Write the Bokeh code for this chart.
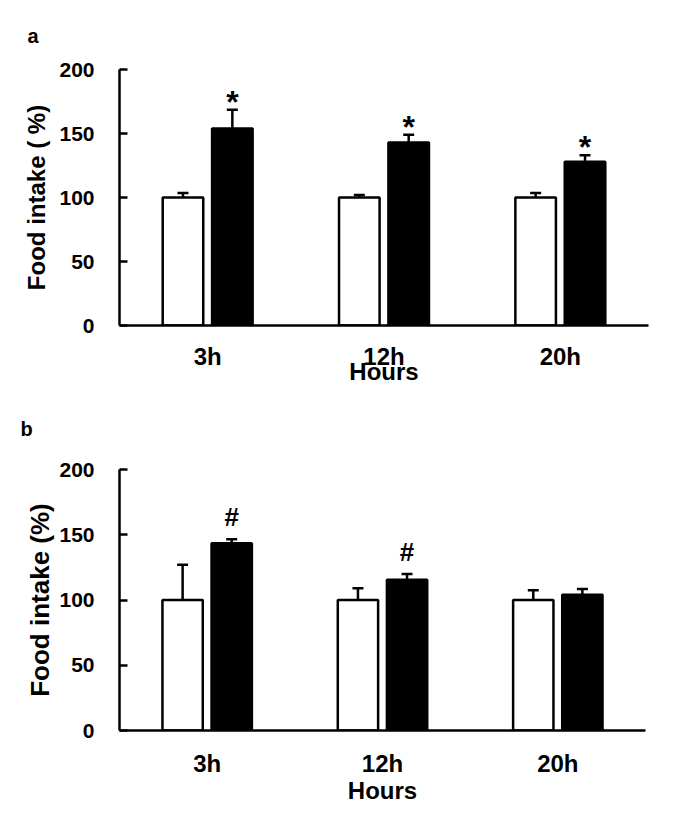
from bokeh.plotting import figure
from bokeh.models import FactorRange, Range1d, ColumnDataSource, FixedTicker
from bokeh.transform import dodge
from bokeh.layouts import column
from bokeh.embed import file_html
from bokeh.resources import INLINE
from bokeh.core.properties import value

# ---- data ----
hours = ["3h", "12h", "20h"]

a_ctrl = [100, 100, 100]
a_ctrl_err = [3.5, 2, 3.5]
a_trt = [154, 143, 128]
a_trt_err = [14.5, 6, 5]
a_marks = ["*", "*", "*"]

b_ctrl = [100, 100, 100]
b_ctrl_err = [27, 9, 7.5]
b_trt = [143.5, 115.5, 104]
b_trt_err = [3, 4.5, 4.5]
b_marks = ["#", "#", ""]

y_ticks = [0, 50, 100, 150, 200]

FONT = value("Liberation Sans")


def panel(letter, ylabel, ctrl, ctrl_err, trt, trt_err, marks, mark_size, mark_offset,
          bl, br, bt, bb, fw, fh, tick_fs, ylab_fs, ylab_standoff, x_standoff, hours_standoff,
          title_standoff):
    p = figure(x_range=FactorRange(factors=hours, range_padding=0),
               y_range=Range1d(0, 200),
               frame_width=fw, frame_height=fh,
               min_border_left=bl, min_border_right=br,
               min_border_top=bt, min_border_bottom=bb,
               output_backend="svg", toolbar_location=None,
               title=letter)
    p.title.text_font = "Liberation Sans"
    p.title.text_font_style = "bold"
    p.title.text_font_size = "20px"
    p.title.text_color = "black"
    p.title.align = "left"
    p.title.vertical_align = "top"
    p.title.offset = -(bl - 20)
    p.title.standoff = title_standoff

    src = ColumnDataSource(dict(
        x=hours,
        ctrl=ctrl, ctrl_top=[m + e for m, e in zip(ctrl, ctrl_err)],
        trt=trt, trt_top=[m + e for m, e in zip(trt, trt_err)],
        mark=marks,
    ))
    off = 0.14
    w = 0.23
    xc = dodge("x", -off, range=p.x_range)
    xt = dodge("x", off, range=p.x_range)

    p.vbar(x=xc, top="ctrl", bottom=0, width=w, source=src,
           fill_color="white", line_color="black", line_width=2.5)
    p.vbar(x=xt, top="trt", bottom=0, width=w, source=src,
           fill_color="black", line_color="black", line_width=2.5)

    p.segment(x0=xc, x1=xc, y0="ctrl", y1="ctrl_top", source=src,
              line_color="black", line_width=2.5)
    p.segment(x0=xt, x1=xt, y0="trt", y1="trt_top", source=src,
              line_color="black", line_width=2.5)
    p.scatter(x=xc, y="ctrl_top", marker="dash", size=11, source=src,
              line_color="black", line_width=2.5)
    p.scatter(x=xt, y="trt_top", marker="dash", size=11, source=src,
              line_color="black", line_width=2.5)

    p.text(x=xt, y="trt_top", text="mark", source=src, text_align="center",
           text_baseline="alphabetic", y_offset=mark_offset,
           text_font=FONT, text_font_style=value("bold"), text_font_size=value(mark_size),
           text_color="black")

    p.xgrid.visible = False
    p.ygrid.visible = False
    p.outline_line_color = None
    p.background_fill_color = "white"

    ya = p.yaxis[0]
    ya.ticker = FixedTicker(ticks=y_ticks)
    ya.minor_tick_line_color = None
    ya.major_tick_in = 8
    ya.major_tick_out = 0
    ya.major_tick_line_width = 2.5
    ya.axis_line_width = 2.5
    ya.major_label_standoff = 25
    ya.major_label_text_font = "Liberation Sans"
    ya.major_label_text_font_style = "bold"
    ya.major_label_text_font_size = tick_fs
    ya.major_label_text_color = "black"
    ya.axis_label = ylabel
    ya.axis_label_text_font = "Liberation Sans"
    ya.axis_label_text_font_style = "bold"
    ya.axis_label_text_font_size = ylab_fs
    ya.axis_label_standoff = ylab_standoff
    ya.axis_label_text_color = "black"

    xa = p.xaxis[0]
    xa.major_tick_line_color = None
    xa.major_tick_in = 0
    xa.major_tick_out = 0
    xa.minor_tick_line_color = None
    xa.axis_line_width = 2.5
    xa.major_label_standoff = x_standoff
    xa.major_label_text_font = "Liberation Sans"
    xa.major_label_text_font_style = "bold"
    xa.major_label_text_font_size = "24px"
    xa.major_label_text_color = "black"
    xa.axis_label = "Hours"
    xa.axis_label_text_font = "Liberation Sans"
    xa.axis_label_text_font_style = "bold"
    xa.axis_label_text_font_size = "24px"
    xa.axis_label_text_color = "black"
    xa.axis_label_standoff = hours_standoff
    return p


pa = panel("a", "Food intake ( %)", a_ctrl, a_ctrl_err, a_trt, a_trt_err, a_marks,
           "32px", -8,
           bl=112, br=19, bt=69, bb=62, fw=529, fh=256,
           tick_fs="21px", ylab_fs="24px", ylab_standoff=6,
           x_standoff=17, hours_standoff=-15, title_standoff=42)
pb = panel("b", "Food intake (%)", b_ctrl, b_ctrl_err, b_trt, b_trt_err, b_marks,
           "26px", -22,
           bl=119, br=15, bt=82, bb=63, fw=526, fh=261,
           tick_fs="21px", ylab_fs="26px", ylab_standoff=1,
           x_standoff=19, hours_standoff=-3, title_standoff=56)

layout = column(pa, pb, spacing=0)
open("out.html", "w").write(file_html(layout, INLINE))
